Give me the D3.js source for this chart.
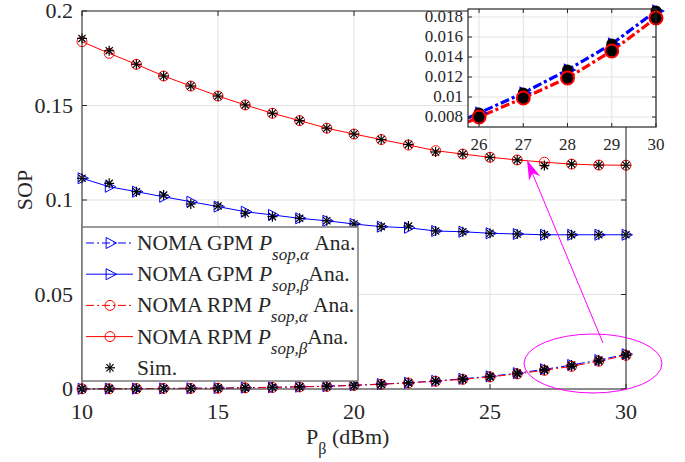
<!DOCTYPE html>
<html><head><meta charset="utf-8">
<script src="https://cdn.jsdelivr.net/npm/d3@7"></script>
<style>body{margin:0;background:#fff}svg{display:block}svg text{font-family:'Liberation Serif','Times New Roman','DejaVu Serif',serif;fill:#262626}</style>
</head><body><svg id="c" width="685" height="462" font-family="Liberation Serif, Times New Roman, serif"></svg>
<script>
const xs = d3.range(10, 31);
const xTicks = [10, 15, 20, 25, 30];
const yTicks = [0, 0.05, 0.1, 0.15, 0.2];
const gpmAlpha = [0.0001,0.0002,0.0002,0.0003,0.0004,0.0005,0.0007,0.0009,0.0012,0.0015,0.0020,0.0026,0.0033,0.0043,0.0054,0.0067,0.0084,0.0104,0.0127,0.0153,0.0184];
const gpmBeta  = [0.1115,0.1070,0.1044,0.1017,0.0991,0.0965,0.0938,0.0921,0.0903,0.0890,0.0873,0.0859,0.0853,0.0836,0.0832,0.0824,0.0820,0.0816,0.0816,0.0816,0.0816];
const rpmAlpha = [0.0001,0.0001,0.0002,0.0003,0.0003,0.0004,0.0006,0.0008,0.0011,0.0014,0.0019,0.0025,0.0032,0.0041,0.0051,0.0064,0.0080,0.0099,0.0120,0.0147,0.0178];
const rpmBeta  = [0.1838,0.1776,0.1718,0.1656,0.1603,0.1550,0.1503,0.1459,0.1420,0.1380,0.1349,0.1320,0.1291,0.1261,0.1243,0.1226,0.1212,0.1200,0.1190,0.1185,0.1184];
const simGpmBeta = [0.1115,0.1088,0.1044,0.1026,0.0979,0.0968,0.0930,0.0912,0.0903,0.0890,0.0873,0.0859,0.0862,0.0836,0.0832,0.0824,0.0820,0.0816,0.0816,0.0816,0.0816];
const simRpmBeta = [0.1855,0.1790,0.1718,0.1656,0.1603,0.1550,0.1503,0.1459,0.1420,0.1380,0.1349,0.1320,0.1294,0.1254,0.1243,0.1226,0.1212,0.1182,0.1190,0.1185,0.1184];
const insetX = [26, 27, 28, 29, 30];
const insetXTicks = [26, 27, 28, 29, 30];
const insetYTicks = [0.008, 0.010, 0.012, 0.014, 0.016, 0.018];
const insetYLabels = ["0.008","0.01","0.012","0.014","0.016","0.018"];
const insetGpm = [0.0084,0.0104,0.0127,0.0153,0.0186];
const insetRpm = [0.0080,0.0099,0.0119,0.0146,0.0179];
const legendLabels = [
  {pre:"NOMA GPM ", sub:"sop,\u03b1", post:" Ana."},
  {pre:"NOMA GPM ", sub:"sop,\u03b2", post:"Ana."},
  {pre:"NOMA RPM ", sub:"sop,\u03b1", post:" Ana."},
  {pre:"NOMA RPM ", sub:"sop,\u03b2", post:"Ana."},
  {pre:"Sim.", sub:null, post:""}
];

const FONT = "'Liberation Serif','Times New Roman',serif";
const svg = d3.select("#c");
const blue = "#0000ff", red = "#ff0000", mag = "#ff00ff", axc = "#262626";
const dashDot = "8,3,2,3";

const x = d3.scaleLinear().domain([10, 30]).range([82, 626]);
const y = d3.scaleLinear().domain([0, 0.2]).range([389, 11]);

const g = svg.append("g");
g.selectAll(".gx").data(xTicks).join("line").attr("x1", d => x(d)).attr("x2", d => x(d)).attr("y1", y(0)).attr("y2", y(0.2)).attr("stroke", "#e3e3e3");
g.selectAll(".gy").data(yTicks).join("line").attr("x1", x(10)).attr("x2", x(30)).attr("y1", d => y(d)).attr("y2", d => y(d)).attr("stroke", "#e3e3e3");

function triPath(cx, cy, s) {
  return `M${cx + s},${cy} L${cx - s * 0.6},${cy - s * 0.85} L${cx - s * 0.6},${cy + s * 0.85} Z`;
}
function star(sel, cx, cy, s) {
  const gg = sel.append("g").attr("stroke", "#000").attr("stroke-width", 1.2);
  gg.append("line").attr("x1", cx - s).attr("x2", cx + s).attr("y1", cy).attr("y2", cy);
  gg.append("line").attr("x1", cx).attr("x2", cx).attr("y1", cy - s).attr("y2", cy + s);
  const d = s * 0.72;
  gg.append("line").attr("x1", cx - d).attr("x2", cx + d).attr("y1", cy - d).attr("y2", cy + d);
  gg.append("line").attr("x1", cx - d).attr("x2", cx + d).attr("y1", cy + d).attr("y2", cy - d);
}
function txt(sel, xx, yy, size, anchor) {
  return sel.append("text").attr("x", xx).attr("y", yy).attr("font-size", size).attr("text-anchor", anchor || "start").style("font-family", FONT);
}

const line = d3.line().x(d => x(d[0])).y(d => y(d[1]));
const series = [
  {v: gpmAlpha, c: blue, dash: dashDot, m: "tri"},
  {v: gpmBeta, c: blue, dash: null, m: "tri"},
  {v: rpmAlpha, c: red, dash: dashDot, m: "circ"},
  {v: rpmBeta, c: red, dash: null, m: "circ"}
];
const plot = svg.append("g");
series.forEach(s => {
  const pts = xs.map((xv, i) => [xv, s.v[i]]);
  plot.append("path").attr("d", line(pts)).attr("fill", "none").attr("stroke", s.c).attr("stroke-width", 1).attr("stroke-dasharray", s.dash);
  pts.forEach(p => {
    if (s.m === "tri") plot.append("path").attr("d", triPath(x(p[0]), y(p[1]), 6.5)).attr("fill", "none").attr("stroke", s.c).attr("stroke-width", 1);
    else plot.append("circle").attr("cx", x(p[0])).attr("cy", y(p[1])).attr("r", 5).attr("fill", "none").attr("stroke", s.c).attr("stroke-width", 1);
  });
});
[gpmAlpha, simGpmBeta, rpmAlpha, simRpmBeta].forEach(v => xs.forEach((xv, i) => star(plot, x(xv), y(v[i]), 5)));

const ax = svg.append("g");
ax.append("rect").attr("x", x(10)).attr("y", y(0.2)).attr("width", x(30) - x(10)).attr("height", y(0) - y(0.2)).attr("fill", "none").attr("stroke", axc).attr("stroke-width", 1);
xTicks.forEach(t => {
  ax.append("line").attr("x1", x(t)).attr("x2", x(t)).attr("y1", y(0)).attr("y2", y(0) - 5).attr("stroke", axc);
  ax.append("line").attr("x1", x(t)).attr("x2", x(t)).attr("y1", y(0.2)).attr("y2", y(0.2) + 5).attr("stroke", axc);
  txt(ax, x(t), 419, 22, "middle").text(t);
});
yTicks.forEach(t => {
  ax.append("line").attr("x1", x(10)).attr("x2", x(10) + 5).attr("y1", y(t)).attr("y2", y(t)).attr("stroke", axc);
  ax.append("line").attr("x1", x(30)).attr("x2", x(30) - 5).attr("y1", y(t)).attr("y2", y(t)).attr("stroke", axc);
  txt(ax, 73, y(t) + 7, 22, "end").text(d3.format("~g")(t));
});
txt(ax, 0, 0, 22, "middle").attr("transform", "translate(32,190) rotate(-90)").text("SOP");
const xl = txt(ax, 306, 444, 22, "start");
xl.append("tspan").text("P");
xl.append("tspan").attr("dy", 10).attr("font-size", 16).text("\u03b2");
xl.append("tspan").attr("dy", -10).text(" (dBm)");

const lg = svg.append("g");
lg.append("rect").attr("x", 82).attr("y", 227).attr("width", 276).attr("height", 154).attr("fill", "#fff").attr("stroke", "#7a7a7a").attr("stroke-width", 1.5);
legendLabels.forEach((L, i) => {
  const cy = 243 + i * 31.2;
  if (i < 4) {
    const s = series[i];
    lg.append("line").attr("x1", 86).attr("x2", 133).attr("y1", cy).attr("y2", cy).attr("stroke", s.c).attr("stroke-dasharray", s.dash);
    if (s.m === "tri") lg.append("path").attr("d", triPath(110, cy, 6.5)).attr("fill", "none").attr("stroke", s.c);
    else lg.append("circle").attr("cx", 110).attr("cy", cy).attr("r", 5).attr("fill", "none").attr("stroke", s.c);
  } else {
    star(lg, 110, cy, 5);
  }
  const t = txt(lg, 137, cy + 7, 21.5, "start");
  t.append("tspan").text(L.pre);
  if (L.sub) {
    t.append("tspan").attr("font-style", "italic").text("P");
    t.append("tspan").attr("font-style", "italic").attr("font-size", 17).attr("dy", 10).text(L.sub);
    t.append("tspan").attr("dy", -10).text(L.post);
  }
});

svg.append("ellipse").attr("cx", 593).attr("cy", 363.5).attr("rx", 69).attr("ry", 29.5).attr("fill", "none").attr("stroke", mag).attr("stroke-width", 1);
svg.append("line").attr("x1", 603).attr("y1", 343).attr("x2", 531).attr("y2", 170).attr("stroke", mag).attr("stroke-width", 1);
(function(){
  const tx = 527, ty = 160, ang = Math.atan2(343 - 160, 603 - 527);
  const L = 20, W = 6;
  const bx = tx + L * Math.cos(ang), by = ty + L * Math.sin(ang);
  const px = -Math.sin(ang) * W, py = Math.cos(ang) * W;
  svg.append("path").attr("d", `M${tx},${ty} L${bx + px},${by + py} L${tx + 0.7 * L * Math.cos(ang)},${ty + 0.7 * L * Math.sin(ang)} L${bx - px},${by - py} Z`).attr("fill", mag);
})();

const ix = d3.scaleLinear().domain([25.75, 30]).range([468, 656]);
const iy = d3.scaleLinear().domain([0.007, 0.0188]).range([127, 9]);
const ins = svg.append("g");
ins.append("rect").attr("x", 468).attr("y", 9).attr("width", 188).attr("height", 118).attr("fill", "#fff");
ins.selectAll(".igx").data(insetXTicks).join("line").attr("x1", d => ix(d)).attr("x2", d => ix(d)).attr("y1", 9).attr("y2", 127).attr("stroke", "#e3e3e3");
ins.selectAll(".igy").data(insetYTicks).join("line").attr("x1", 468).attr("x2", 656).attr("y1", d => iy(d)).attr("y2", d => iy(d)).attr("stroke", "#e3e3e3");
svg.append("clipPath").attr("id", "ic").append("rect").attr("x", 468).attr("y", 9).attr("width", 200).attr("height", 118);
const iline = d3.line().x(d => ix(d[0])).y(d => iy(d[1]));
const ipts = [insetGpm, insetRpm].map(v => insetX.map((xv, i) => [xv, v[i]]));
const extG = [[25.75, 0.0079]].concat(ipts[0]);
const extR = [[25.75, 0.0075]].concat(ipts[1]);
ins.append("path").attr("d", iline(extG)).attr("fill", "none").attr("stroke", blue).attr("stroke-width", 3.2).attr("stroke-dasharray", "9,3,3,3").attr("clip-path", "url(#ic)");
ins.append("path").attr("d", iline(extR)).attr("fill", "none").attr("stroke", red).attr("stroke-width", 3.2).attr("stroke-dasharray", "9,3,3,3").attr("clip-path", "url(#ic)");
ipts[0].forEach(p => ins.append("path").attr("d", triPath(ix(p[0]) + 1, iy(p[1]), 8)).attr("fill", blue));
ipts[0].forEach(p => ins.append("circle").attr("cx", ix(p[0])).attr("cy", iy(p[1])).attr("r", 5.5).attr("fill", "#000"));
ipts[1].forEach(p => ins.append("circle").attr("cx", ix(p[0])).attr("cy", iy(p[1])).attr("r", 6.5).attr("fill", "#000").attr("stroke", red).attr("stroke-width", 2));
ins.append("rect").attr("x", 468).attr("y", 9).attr("width", 188).attr("height", 118).attr("fill", "none").attr("stroke", axc).attr("stroke-width", 1.2);
insetXTicks.forEach(t => {
  ins.append("line").attr("x1", ix(t)).attr("x2", ix(t)).attr("y1", 127).attr("y2", 123).attr("stroke", axc);
  ins.append("line").attr("x1", ix(t)).attr("x2", ix(t)).attr("y1", 9).attr("y2", 13).attr("stroke", axc);
  txt(ins, ix(t), 150, 17, "middle").text(t);
});
insetYTicks.forEach((t, i) => {
  ins.append("line").attr("x1", 468).attr("x2", 472).attr("y1", iy(t)).attr("y2", iy(t)).attr("stroke", axc);
  ins.append("line").attr("x1", 656).attr("x2", 652).attr("y1", iy(t)).attr("y2", iy(t)).attr("stroke", axc);
  txt(ins, 463, iy(t) + 5, 17, "end").text(insetYLabels[i]);
});
</script></body></html>
